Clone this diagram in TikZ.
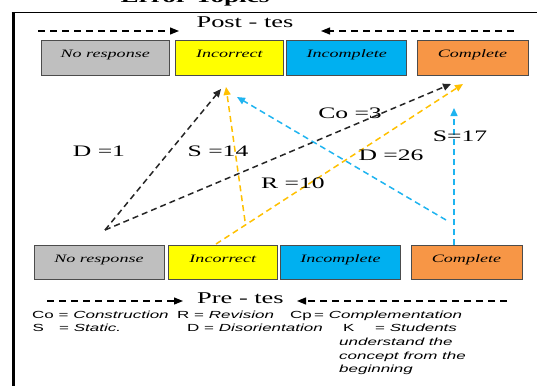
\documentclass[tikz,border=0pt]{standalone}
\usepackage{fontspec}
\setmainfont{Liberation Serif}[FakeStretch=1.6]
\setsansfont{Liberation Sans}[FakeStretch=1.65]
\usetikzlibrary{arrows.meta}
\definecolor{boxgray}{HTML}{BFBFBF}
\definecolor{boxyellow}{HTML}{FFFF00}
\definecolor{boxblue}{HTML}{00B0F0}
\definecolor{boxorange}{HTML}{F79646}
\definecolor{lineorange}{HTML}{FFC000}
\definecolor{lineblue}{HTML}{1FB4F0}

\begin{document}
\begin{tikzpicture}[x=1pt, y=-1pt,
		cat/.style = {draw = black!70, line width = 1pt, inner sep = 0pt, text height = 8pt, text depth = 8pt, font = \fontsize{11.3}{12}\selectfont\itshape},
		testlabel/.style = {inner sep = 0pt, font = \fontsize{16.5}{18}\selectfont},
		flowlabel/.style = {inner sep = 0pt, font = \fontsize{16}{18}\selectfont},
		testarrow/.style = {line width = 1.2pt, dash pattern = on 7pt off 5pt, -{Triangle[length = 9pt, width = 7pt]}},
		flow/.style = {line width = 1.5pt, dash pattern = on 6pt off 4pt, -{Triangle[length = 8pt, width = 7pt]}},
		legend/.style = {anchor = base west, inner sep = 0pt, font = \sffamily\fontsize{10.3}{12}\selectfont}]

		\useasboundingbox (0,0) rectangle (537,385);
		\clip (0,0) rectangle (537,385);

		% frame and title
		\draw[line width = 3pt] (13,386) -- (13,12.5);
		\draw[line width = 1.5pt] (11.5,12.5) -- (538,12.5);
		\node[anchor = base, inner sep = 0pt, font = \bfseries\fontsize{17}{18}\selectfont] (title) at (195,3) {Error Topics};

		% post-test row
		\node[testlabel] (post) at (245,22) {Post - tes};
		\coordinate (postLA) at (38,31);
		\coordinate (postLB) at (179,31);
		\coordinate (postRA) at (514,31);
		\coordinate (postRB) at (321,31);
		\draw[testarrow] (postLA) -- (postLB);
		\draw[testarrow] (postRA) -- (postRB);

		\node[cat, fill = boxgray, minimum width = 128.5pt, minimum height = 35pt] (postNo) at (105.25,58) {No response};
		\node[cat, fill = boxyellow, minimum width = 108.5pt, minimum height = 35pt] (postInc) at (229.3,58) {Incorrect};
		\node[cat, fill = boxblue, minimum width = 120pt, minimum height = 35pt] (postIcp) at (346.7,58) {Incomplete};
		\node[cat, fill = boxorange, minimum width = 111pt, minimum height = 35pt] (postCom) at (472.5,58) {Complete};

		% pre-test row
		\node[cat, fill = boxgray, minimum width = 130pt, minimum height = 34pt] (preNo) at (99,262.5) {No response};
		\node[cat, fill = boxyellow, minimum width = 108.5pt, minimum height = 34pt] (preInc) at (222.75,262.5) {Incorrect};
		\node[cat, fill = boxblue, minimum width = 120.5pt, minimum height = 34pt] (preIcp) at (340.5,262.5) {Incomplete};
		\node[cat, fill = boxorange, minimum width = 111pt, minimum height = 34pt] (preCom) at (466.5,262.5) {Complete};

		\node[testlabel] (pre) at (240.5,298) {Pre - tes};
		\coordinate (preLA) at (47,301);
		\coordinate (preLB) at (183,301);
		\coordinate (preRA) at (507,301);
		\coordinate (preRB) at (297,301);
		\draw[testarrow] (preLA) -- (preLB);
		\draw[testarrow] (preRA) -- (preRB);

		% changes between the tests
		\coordinate (noSrc) at (105,230);
		\coordinate (incSrc) at (245,221);
		\coordinate (incBot) at (216,244);
		\coordinate (icpSrc) at (446,220);
		\coordinate (comBot) at (454,245);
		\coordinate (incDstK) at (221,89);
		\coordinate (incDstO) at (226,87);
		\coordinate (incDstB) at (237,97);
		\coordinate (comDstK) at (451,84);
		\coordinate (comDstO) at (463,84);
		\coordinate (comDstB) at (454,108);

		\draw[flow, black!85] (noSrc) -- (incDstK);
		\draw[flow, black!85] (noSrc) -- (comDstK);
		\draw[flow, lineorange] (incSrc) -- (incDstO);
		\draw[flow, lineorange] (incBot) -- (comDstO);
		\draw[flow, lineblue] (icpSrc) -- (incDstB);
		\draw[flow, lineblue] (comBot) -- (comDstB);

		\node[flowlabel] (lblD1) at (99,151.5) {D =1};
		\node[flowlabel] (lblS14) at (218,151) {S =14};
		\node[flowlabel] (lblCo3) at (350,113) {Co =3};
		\node[flowlabel] (lblR10) at (293,183.5) {R =10};
		\node[flowlabel] (lblD26) at (391,155.5) {D =26};
		\node[flowlabel] (lblS17) at (460,136.5) {S=17};

		% legend
		\node[legend] (keyCo) at (32,318) {Co = \textit{Construction}};
		\node[legend] (keyR) at (177,318) {R = \textit{Revision}};
		\node[legend] (keyCp) at (290,318) {Cp};
		\node[legend] (keyCpT) at (314,318) {= \textit{Complementation}};
		\node[legend] (keyS) at (32.5,331.5) {S};
		\node[legend] (keyST) at (59,331.5) {= \textit{Static.}};
		\node[legend] (keyD) at (187,331.5) {D = \textit{Disorientation}};
		\node[legend] (keyK) at (343,331.5) {K};
		\node[legend] (keyKT) at (375,331.5) {= \textit{Students}};
		\node[legend] (keyK2) at (339,345) {\textit{understand the}};
		\node[legend] (keyK3) at (339,359) {\textit{concept from the}};
		\node[legend] (keyK4) at (339,372) {\textit{beginning}};
	\end{tikzpicture}
\end{document}
